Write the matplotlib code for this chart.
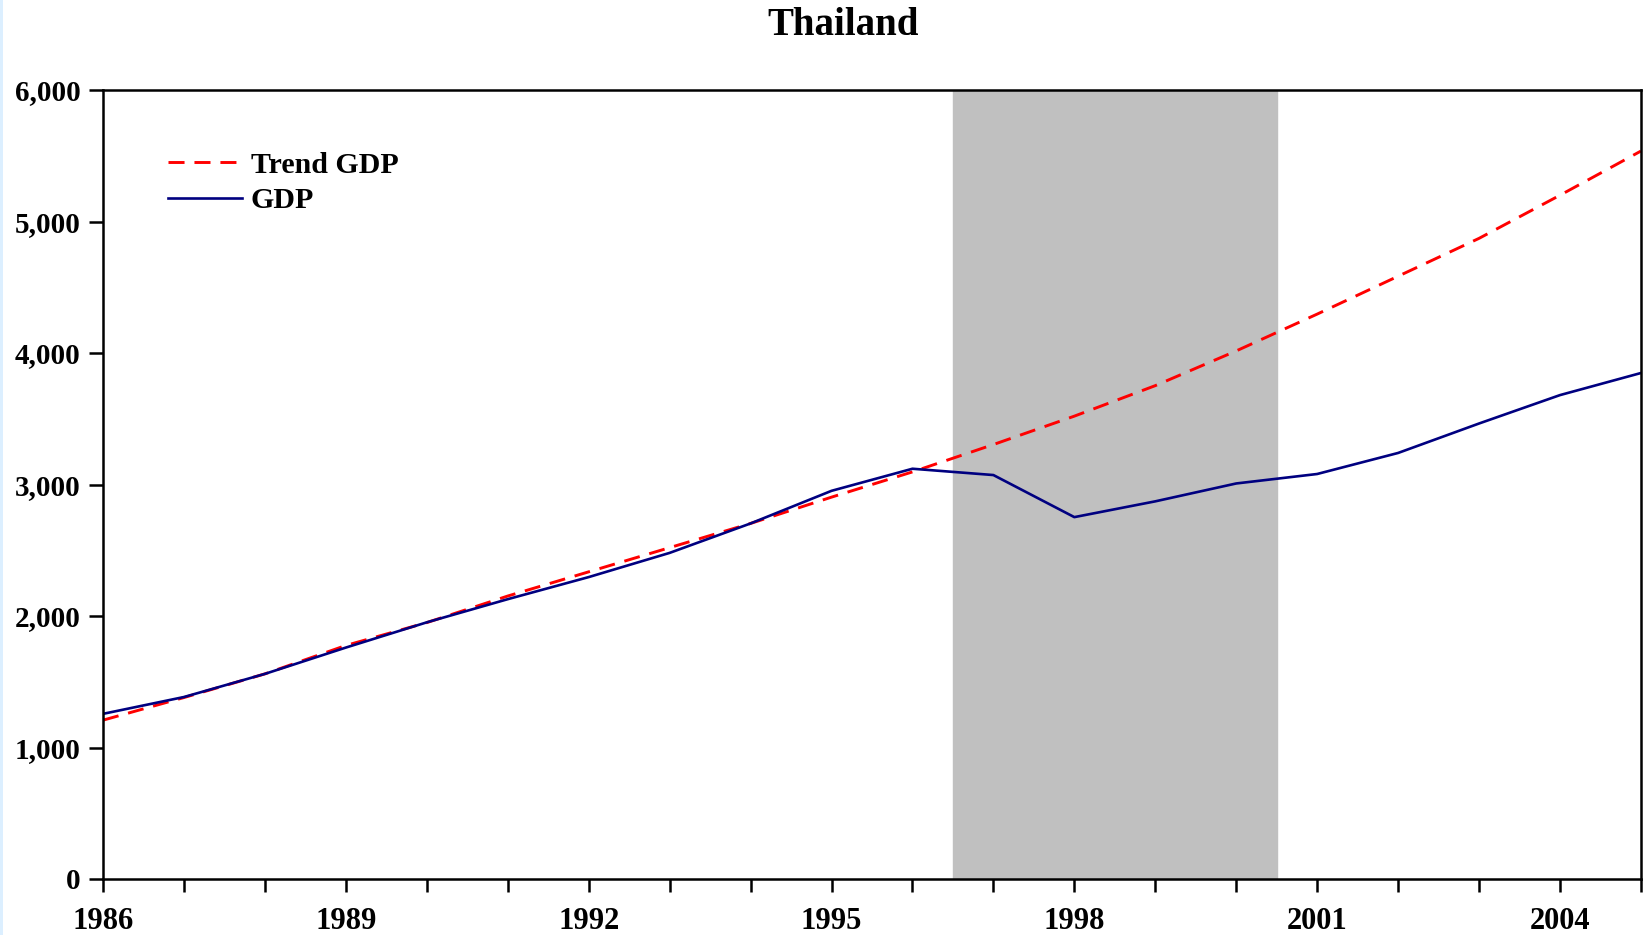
import matplotlib.pyplot as plt
from matplotlib.patches import Rectangle
from matplotlib.ticker import FuncFormatter, MultipleLocator

# Thailand real GDP vs. trend
years = list(range(1986, 2006))
gdp = [1256, 1384, 1560, 1760, 1952, 2128, 2296, 2480, 2704, 2952,
       3120, 3072, 2752, 2872, 3008, 3080, 3240, 3464, 3680, 3848]
trend_gdp = [1208, 1380, 1560, 1776, 1950, 2152, 2336, 2520, 2704, 2904,
             3096, 3304, 3520, 3752, 4016, 4296, 4584, 4872, 5200, 5536]
crisis_start, crisis_end = 1996.5, 2000.5

plt.rcParams['font.family'] = ['Liberation Serif', 'DejaVu Serif']
plt.rcParams['font.weight'] = 'bold'

fig = plt.figure(figsize=(16.49, 9.35), dpi=100)
ax = fig.add_axes([0.0625, 0.0599, 0.9326, 0.8438])

# thin pale strip on the left edge of the figure
fig.patches.append(Rectangle((0, 0), 3 / 1649, 1, transform=fig.transFigure,
                             facecolor='#dcefff', edgecolor='none'))

ax.axvspan(crisis_start, crisis_end, color='#c0c0c0', zorder=0)
ax.plot(years, trend_gdp, color='#ff0000', linestyle=(0, (5.5, 3.4)),
        linewidth=2.1, label='Trend GDP')
ax.plot(years, gdp, color='#000080', linewidth=1.9, label='GDP')

ax.set_xlim(1986, 2005)
ax.set_ylim(0, 6000)
ax.xaxis.set_major_locator(MultipleLocator(3))
ax.xaxis.set_minor_locator(MultipleLocator(1))
ax.yaxis.set_major_locator(MultipleLocator(1000))
ax.yaxis.set_major_formatter(FuncFormatter(lambda v, p: f'{int(v):,}'))

for s in ax.spines.values():
    s.set_linewidth(1.8)
ax.tick_params(axis='x', which='both', direction='out', length=9, width=1.8,
               pad=11, labelsize=22)
ax.tick_params(axis='y', direction='out', length=10, width=1.8, pad=6,
               labelsize=21)
for lab in ax.get_xticklabels() + ax.get_yticklabels():
    lab.set_fontweight('bold')

ax.legend(loc='upper left', bbox_to_anchor=(0.0425, 0.922), frameon=False,
          handlelength=2.45, handletextpad=0.3, labelspacing=0.29,
          borderpad=0, borderaxespad=0,
          prop={'weight': 'bold', 'size': 21.5})

fig.text(0.511, 0.973, 'Thailand', ha='center', va='center', fontsize=28,
         fontweight='bold')

fig.savefig('out.png', dpi=100)
